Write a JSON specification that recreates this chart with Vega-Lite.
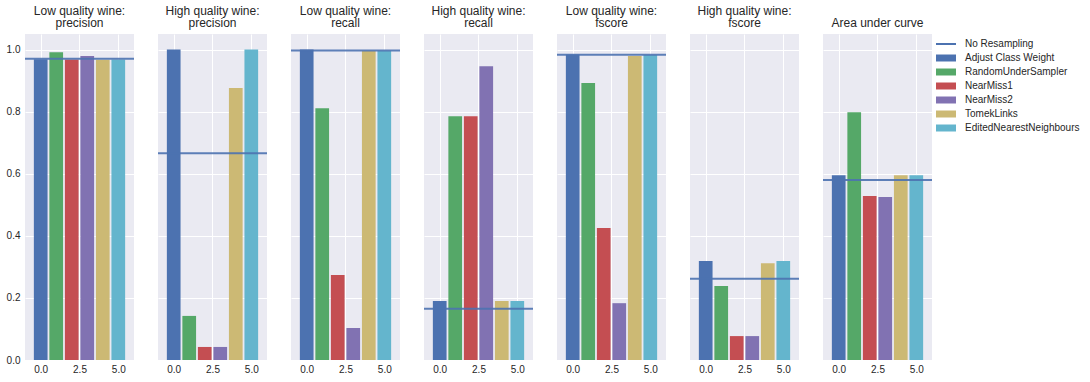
{
  "$schema": "https://vega.github.io/schema/vega-lite/v6.json",
  "background": "white",
  "padding": {"left": 5, "top": 5, "right": 5, "bottom": 5},
  "data": {"values": [
    {"panel": "Low quality wine:|precision", "method": "Adjust Class Weight", "idx": 0, "value": 0.969, "baseline": 0.970},
    {"panel": "Low quality wine:|precision", "method": "RandomUnderSampler", "idx": 1, "value": 0.991, "baseline": 0.970},
    {"panel": "Low quality wine:|precision", "method": "NearMiss1", "idx": 2, "value": 0.968, "baseline": 0.970},
    {"panel": "Low quality wine:|precision", "method": "NearMiss2", "idx": 3, "value": 0.979, "baseline": 0.970},
    {"panel": "Low quality wine:|precision", "method": "TomekLinks", "idx": 4, "value": 0.967, "baseline": 0.970},
    {"panel": "Low quality wine:|precision", "method": "EditedNearestNeighbours", "idx": 5, "value": 0.968, "baseline": 0.970},
    {"panel": "High quality wine:|precision", "method": "Adjust Class Weight", "idx": 0, "value": 1.0, "baseline": 0.666},
    {"panel": "High quality wine:|precision", "method": "RandomUnderSampler", "idx": 1, "value": 0.142, "baseline": 0.666},
    {"panel": "High quality wine:|precision", "method": "NearMiss1", "idx": 2, "value": 0.042, "baseline": 0.666},
    {"panel": "High quality wine:|precision", "method": "NearMiss2", "idx": 3, "value": 0.042, "baseline": 0.666},
    {"panel": "High quality wine:|precision", "method": "TomekLinks", "idx": 4, "value": 0.876, "baseline": 0.666},
    {"panel": "High quality wine:|precision", "method": "EditedNearestNeighbours", "idx": 5, "value": 1.0, "baseline": 0.666},
    {"panel": "Low quality wine:|recall", "method": "Adjust Class Weight", "idx": 0, "value": 1.0, "baseline": 0.997},
    {"panel": "Low quality wine:|recall", "method": "RandomUnderSampler", "idx": 1, "value": 0.811, "baseline": 0.997},
    {"panel": "Low quality wine:|recall", "method": "NearMiss1", "idx": 2, "value": 0.274, "baseline": 0.997},
    {"panel": "Low quality wine:|recall", "method": "NearMiss2", "idx": 3, "value": 0.103, "baseline": 0.997},
    {"panel": "Low quality wine:|recall", "method": "TomekLinks", "idx": 4, "value": 0.996, "baseline": 0.997},
    {"panel": "Low quality wine:|recall", "method": "EditedNearestNeighbours", "idx": 5, "value": 0.996, "baseline": 0.997},
    {"panel": "High quality wine:|recall", "method": "Adjust Class Weight", "idx": 0, "value": 0.190, "baseline": 0.165},
    {"panel": "High quality wine:|recall", "method": "RandomUnderSampler", "idx": 1, "value": 0.785, "baseline": 0.165},
    {"panel": "High quality wine:|recall", "method": "NearMiss1", "idx": 2, "value": 0.785, "baseline": 0.165},
    {"panel": "High quality wine:|recall", "method": "NearMiss2", "idx": 3, "value": 0.946, "baseline": 0.165},
    {"panel": "High quality wine:|recall", "method": "TomekLinks", "idx": 4, "value": 0.190, "baseline": 0.165},
    {"panel": "High quality wine:|recall", "method": "EditedNearestNeighbours", "idx": 5, "value": 0.190, "baseline": 0.165},
    {"panel": "Low quality wine:|fscore", "method": "Adjust Class Weight", "idx": 0, "value": 0.984, "baseline": 0.983},
    {"panel": "Low quality wine:|fscore", "method": "RandomUnderSampler", "idx": 1, "value": 0.892, "baseline": 0.983},
    {"panel": "Low quality wine:|fscore", "method": "NearMiss1", "idx": 2, "value": 0.425, "baseline": 0.983},
    {"panel": "Low quality wine:|fscore", "method": "NearMiss2", "idx": 3, "value": 0.183, "baseline": 0.983},
    {"panel": "Low quality wine:|fscore", "method": "TomekLinks", "idx": 4, "value": 0.979, "baseline": 0.983},
    {"panel": "Low quality wine:|fscore", "method": "EditedNearestNeighbours", "idx": 5, "value": 0.982, "baseline": 0.983},
    {"panel": "High quality wine:|fscore", "method": "Adjust Class Weight", "idx": 0, "value": 0.319, "baseline": 0.262},
    {"panel": "High quality wine:|fscore", "method": "RandomUnderSampler", "idx": 1, "value": 0.238, "baseline": 0.262},
    {"panel": "High quality wine:|fscore", "method": "NearMiss1", "idx": 2, "value": 0.077, "baseline": 0.262},
    {"panel": "High quality wine:|fscore", "method": "NearMiss2", "idx": 3, "value": 0.077, "baseline": 0.262},
    {"panel": "High quality wine:|fscore", "method": "TomekLinks", "idx": 4, "value": 0.312, "baseline": 0.262},
    {"panel": "High quality wine:|fscore", "method": "EditedNearestNeighbours", "idx": 5, "value": 0.319, "baseline": 0.262},
    {"panel": "Area under curve", "method": "Adjust Class Weight", "idx": 0, "value": 0.595, "baseline": 0.580},
    {"panel": "Area under curve", "method": "RandomUnderSampler", "idx": 1, "value": 0.798, "baseline": 0.580},
    {"panel": "Area under curve", "method": "NearMiss1", "idx": 2, "value": 0.528, "baseline": 0.580},
    {"panel": "Area under curve", "method": "NearMiss2", "idx": 3, "value": 0.525, "baseline": 0.580},
    {"panel": "Area under curve", "method": "TomekLinks", "idx": 4, "value": 0.595, "baseline": 0.580},
    {"panel": "Area under curve", "method": "EditedNearestNeighbours", "idx": 5, "value": 0.595, "baseline": 0.580}
  ]},
  "facet": {
    "column": {
      "field": "panel",
      "type": "nominal",
      "sort": ["Low quality wine:|precision", "High quality wine:|precision", "Low quality wine:|recall", "High quality wine:|recall", "Low quality wine:|fscore", "High quality wine:|fscore", "Area under curve"],
      "header": {
        "title": null,
        "labelExpr": "split(datum.value, '|')",
        "labelFont": "Liberation Sans",
        "labelFontSize": 12,
        "labelColor": "#262626",
        "labelLineHeight": 12,
        "labelPadding": 4,
        "labelBaseline": "top"
      }
    }
  },
  "spacing": 22,
  "spec": {
    "width": 109,
    "height": 326,
    "layer": [
      {
        "mark": {"type": "bar", "width": 13.7},
        "encoding": {
          "x": {
            "field": "idx", "type": "quantitative",
            "scale": {"domain": [-0.69, 5.69], "nice": false, "zero": false},
            "axis": {"values": [0, 2.5, 5], "format": ".1f", "title": null}
          },
          "y": {
            "field": "value", "type": "quantitative",
            "scale": {"domain": [0, 1.05], "nice": false},
            "axis": {"values": [0, 0.2, 0.4, 0.6, 0.8, 1.0], "format": ".1f", "title": null, "minExtent": 19, "maxExtent": 19}
          },
          "color": {
            "field": "method", "type": "nominal",
            "scale": {
              "domain": ["No Resampling", "Adjust Class Weight", "RandomUnderSampler", "NearMiss1", "NearMiss2", "TomekLinks", "EditedNearestNeighbours"],
              "range": ["#4C72B0", "#4C72B0", "#55A868", "#C44E52", "#8172B2", "#CCB974", "#64B5CD"]
            },
            "legend": {
              "title": null,
              "orient": "none",
              "legendX": 915,
              "legendY": 4,
              "symbolSize": 100,
              "labelOffset": 13,
              "labelFontSize": 10,
              "labelFont": "Liberation Sans",
              "labelColor": "#262626",
              "rowPadding": 3,
              "encode": {
                "symbols": {
                  "update": {
                    "shape": {"signal": "datum.value == 'No Resampling' ? 'M-2,0H2' : 'M-2,-0.7H2V0.7H-2Z'"},
                    "stroke": {"signal": "datum.value == 'No Resampling' ? '#4C72B0' : null"},
                    "strokeWidth": {"value": 2},
                    "fillOpacity": {"value": 1}
                  }
                }
              }
            }
          }
        }
      },
      {
        "mark": {"type": "rule", "color": "#4C72B0", "strokeWidth": 2, "opacity": 0.9},
        "encoding": {
          "y": {"aggregate": "mean", "field": "baseline", "type": "quantitative"}
        }
      }
    ]
  },
  "config": {
    "view": {"fill": "#EAEAF2", "stroke": null},
    "axis": {
      "domain": false,
      "ticks": false,
      "grid": true,
      "gridColor": "white",
      "gridWidth": 1,
      "gridOpacity": 1,
      "labelFont": "Liberation Sans",
      "labelFontSize": 10,
      "labelColor": "#262626",
      "labelPadding": 4
    }
  }
}
